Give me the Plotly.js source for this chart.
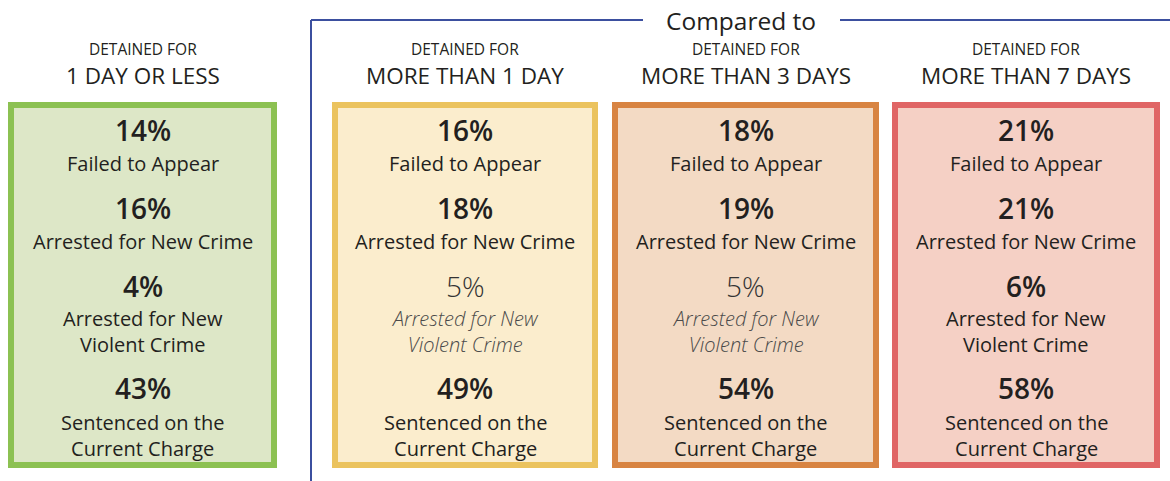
<!DOCTYPE html>
<html><head><meta charset="utf-8">
<script src="https://cdn.plot.ly/plotly-3.0.1.min.js"></script>
<style>html,body{margin:0;padding:0;background:#fff}#chart{width:1170px;height:481px}</style>
</head><body><div id="chart"></div>
<script>
// ---- data ----
var groupLabels = ['1 DAY OR LESS', 'MORE THAN 1 DAY', 'MORE THAN 3 DAYS', 'MORE THAN 7 DAYS'];
var headerPrefix = 'DETAINED FOR';
var comparedLabel = 'Compared to';
var measureLabels = ['Failed to Appear', 'Arrested for New Crime', 'Arrested for New<br>Violent Crime', 'Sentenced on the<br>Current Charge'];
var failedToAppear = [14, 16, 18, 21];
var arrestedNewCrime = [16, 18, 19, 21];
var arrestedViolent = [4, 5, 5, 6];
var sentencedCurrent = [43, 49, 54, 58];
var violentSignificant = [true, false, false, true];

// ---- layout (pixel-space axes) ----
var boxX0 = [11, 335, 615, 895];
var boxX1 = [274, 595, 876, 1157];
var boxY0 = 105, boxY1 = 465;
var borderColors = ['#8cc152', '#ebc35e', '#d88442', '#e06565'];
var fillColors = ['#dde7c7', '#fbedcd', '#f3dac4', '#f5d0c5'];
var pctY = [130, 208, 286, 388];
var lblY = [163, 241, 331, 435];
var FONT = '"Open Sans", sans-serif';
var dark = '#231f20';

var series = [failedToAppear, arrestedNewCrime, arrestedViolent, sentencedCurrent];
var shapes = [], ann = [];
for (var g = 0; g < groupLabels.length; g++) {
  var cx = (boxX0[g] + boxX1[g]) / 2;
  shapes.push({type: 'rect', xref: 'x', yref: 'y', x0: boxX0[g], x1: boxX1[g], y0: boxY0, y1: boxY1,
    line: {color: borderColors[g], width: 6}, fillcolor: fillColors[g], layer: 'below'});
  ann.push({xref: 'x', yref: 'y', x: cx, y: 49, text: headerPrefix, showarrow: false,
    font: {family: FONT, size: 15.5, color: dark}, yanchor: 'middle'});
  ann.push({xref: 'x', yref: 'y', x: cx, y: 75, text: groupLabels[g], showarrow: false,
    font: {family: FONT, size: 22.5, color: dark, weight: 500}, yanchor: 'middle'});
  for (var m = 0; m < series.length; m++) {
    var faded = (m === 2 && !violentSignificant[g]);
    ann.push({xref: 'x', yref: 'y', x: cx, y: pctY[m], text: series[m][g] + '%',
      showarrow: false, yanchor: 'middle',
      font: {family: FONT, size: 28, color: faded ? '#333333' : dark, weight: faded ? 300 : 600}});
    ann.push({xref: 'x', yref: 'y', x: cx, y: lblY[m], text: faded ? '<i>' + measureLabels[m] + '</i>' : measureLabels[m],
      showarrow: false, yanchor: 'middle',
      font: {family: FONT, size: 20, color: faded ? '#4a4a4a' : dark, weight: faded ? 300 : 500}});
  }
}
// compared-to bracket
var blue = '#3b4f9f';
shapes.push({type: 'line', xref: 'x', yref: 'y', x0: 311, x1: 311, y0: 20, y1: 481, line: {color: blue, width: 2}});
shapes.push({type: 'line', xref: 'x', yref: 'y', x0: 311, x1: 643, y0: 20, y1: 20, line: {color: blue, width: 2}});
shapes.push({type: 'line', xref: 'x', yref: 'y', x0: 840, x1: 1170, y0: 20, y1: 20, line: {color: blue, width: 2}});
ann.push({xref: 'x', yref: 'y', x: 741, y: 20, text: comparedLabel, showarrow: false, yanchor: 'middle',
  font: {family: FONT, size: 24.5, color: dark, weight: 500}});

Plotly.newPlot('chart', [], {
  width: 1170, height: 481,
  margin: {l: 0, r: 0, t: 0, b: 0},
  paper_bgcolor: '#fff', plot_bgcolor: '#fff',
  xaxis: {range: [0, 1170], visible: false, fixedrange: true},
  yaxis: {range: [481, 0], visible: false, fixedrange: true},
  shapes: shapes, annotations: ann, showlegend: false
}, {displayModeBar: false, staticPlot: true});
</script></body></html>
